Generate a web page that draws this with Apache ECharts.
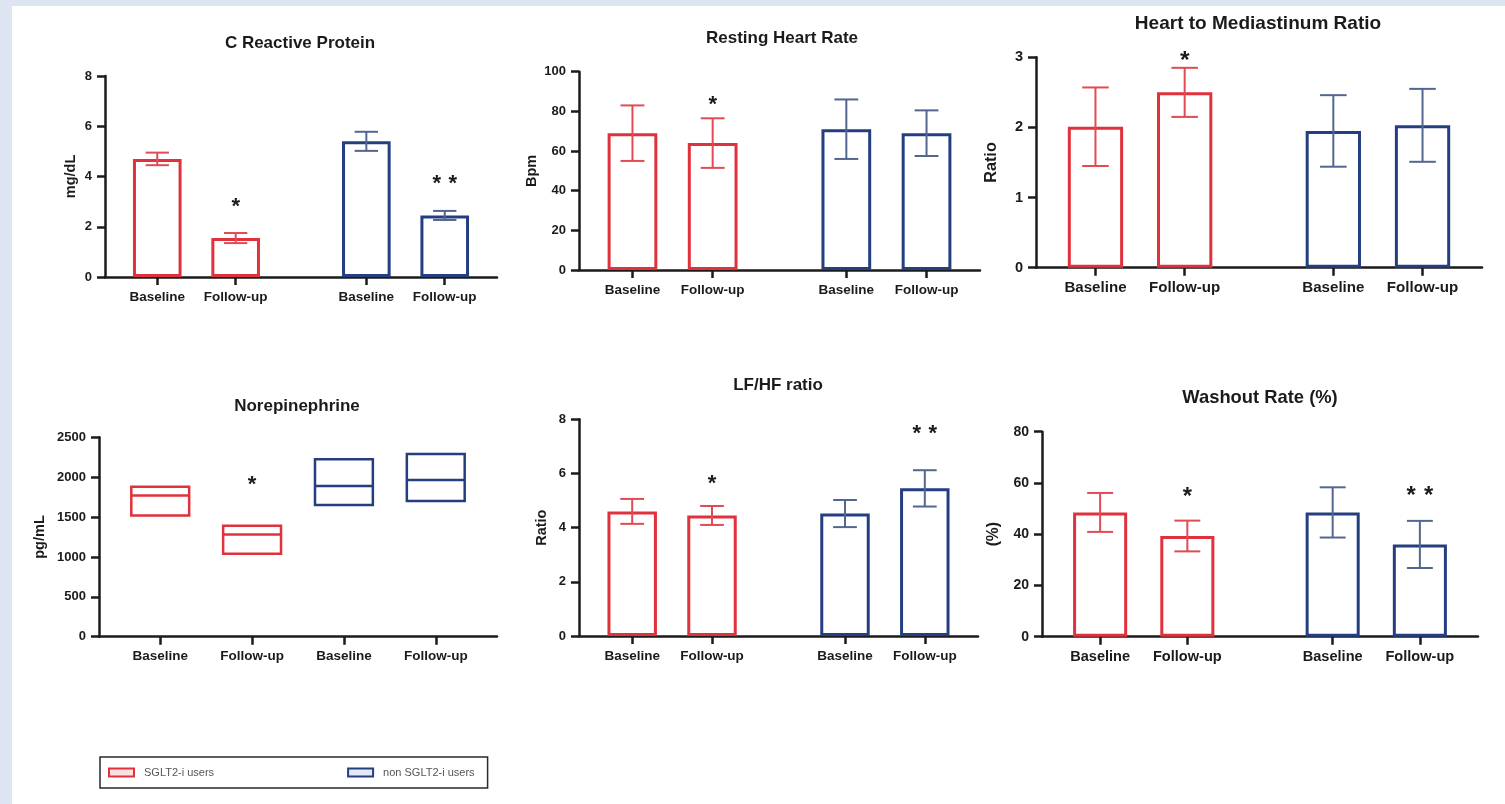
<!DOCTYPE html>
<html>
<head>
<meta charset="utf-8">
<script src="https://cdn.jsdelivr.net/npm/echarts@6/dist/echarts.min.js"></script>
<style>
  html, body { margin: 0; padding: 0; width: 1505px; height: 804px; overflow: hidden; background: #dde5f3; }
  #chart { position: absolute; left: 12px; top: 6px; width: 1493px; height: 798px; background: #ffffff; }
</style>
</head>
<body>
<div id="chart"></div>
<script>
// ---- data ----
const groups = ['SGLT2-i users', 'non SGLT2-i users'];
const timepoints = ['Baseline', 'Follow-up'];

// C Reactive Protein (mg/dL)
const crpSglt2Mean = [4.7, 1.55];
const crpSglt2Err = [0.25, 0.2];
const crpNonMean = [5.4, 2.45];
const crpNonErr = [0.38, 0.18];
const crpSig = ['', '*', '', '**'];
const crpSigLevel = [null, 3.0, null, 3.9];
const crpTicks = [0, 2, 4, 6, 8];

// Resting Heart Rate (Bpm)
const rhrSglt2Mean = [69, 64];
const rhrSglt2Err = [14, 12.5];
const rhrNonMean = [71, 69];
const rhrNonErr = [15, 11.5];
const rhrSig = ['', '*', '', ''];
const rhrSigLevel = [null, 85.7, null, null];
const rhrTicks = [0, 20, 40, 60, 80, 100];

// Heart to Mediastinum Ratio
const hmrSglt2Mean = [2.01, 2.5];
const hmrSglt2Err = [0.56, 0.35];
const hmrNonMean = [1.95, 2.03];
const hmrNonErr = [0.51, 0.52];
const hmrSig = ['', '*', '', ''];
const hmrSigLevel = [null, 3.03, null, null];
const hmrTicks = [0, 1, 2, 3];

// Norepinephrine (pg/mL): low, median, high
const neSglt2Low = [1520, 1040];
const neSglt2Mid = [1770, 1280];
const neSglt2High = [1880, 1390];
const neNonLow = [1650, 1700];
const neNonMid = [1890, 1965];
const neNonHigh = [2225, 2290];
const neSig = ['', '*', '', ''];
const neSigLevel = [null, 1966, null, null];
const neTicks = [0, 500, 1000, 1500, 2000, 2500];

// LF/HF ratio
const lfhfSglt2Mean = [4.6, 4.45];
const lfhfSglt2Err = [0.46, 0.35];
const lfhfNonMean = [4.52, 5.45];
const lfhfNonErr = [0.5, 0.67];
const lfhfSig = ['', '*', '', '**'];
const lfhfSigLevel = [null, 5.8, null, 7.67];
const lfhfTicks = [0, 2, 4, 6, 8];

// Washout Rate (%)
const wrSglt2Mean = [48.5, 39.3];
const wrSglt2Err = [7.6, 6.0];
const wrNonMean = [48.5, 36];
const wrNonErr = [9.8, 9.2];
const wrSig = ['', '*', '', '**'];
const wrSigLevel = [null, 56.6, null, 56.9];
const wrTicks = [0, 20, 40, 60, 80];

// ---- styling / layout ----
const OX = 12, OY = 6;            // chart container offset on the page
const RED = '#e0323c', BLUE = '#243f80';
const RED_ERR = '#e24a55', BLUE_ERR = '#52668f';
const INK = '#1b1b1b';
const FONT = '"Liberation Sans", Arial, sans-serif';
const BAR_FRAC = 0.62;             // bar width as a share of the slot step
const GROUPED_SLOTS = [2, 5, 10, 13];
const EVEN_SLOTS = [2, 5, 8, 11];

const option = {
  animation: false,
  title: [], grid: [], xAxis: [], yAxis: [], series: [],
  legend: {
    left: 100 - OX, top: 757 - OY,
    orient: 'horizontal', selectedMode: false,
    itemWidth: 25, itemHeight: 8, itemGap: 133,
    padding: [10, 13, 10, 8],
    borderColor: '#2a2a2a', borderWidth: 1.5,
    textStyle: { fontFamily: FONT, fontSize: 11, color: '#555', padding: [0, 0, 0, 5] },
    data: [
      { name: groups[0], icon: 'rect', itemStyle: { color: '#f7e1e3', borderColor: RED, borderWidth: 2 } },
      { name: groups[1], icon: 'rect', itemStyle: { color: '#e3eaf5', borderColor: BLUE, borderWidth: 2 } }
    ]
  }
};

function addFrame(i, p) {
  const s = p.scale;
  option.grid.push({ left: p.grid[0] - OX, top: p.grid[1] - OY, width: p.grid[2], height: p.grid[3] });
  option.title.push({
    text: p.title, left: p.titleXY[0] - OX, top: p.titleXY[1] - OY,
    textAlign: 'center', textVerticalAlign: 'middle', padding: 0,
    textStyle: { fontFamily: FONT, fontSize: 17 * s, fontWeight: 'bold', color: INK }
  });
  const labels = timepoints.concat(timepoints);
  option.xAxis.push({
    gridIndex: i, type: 'value', min: 0, max: p.xMax,
    splitLine: { show: false },
    axisLine: { show: true, lineStyle: { color: INK, width: 2.5 } },
    axisTick: { show: true, customValues: p.slots, length: 8, lineStyle: { color: INK, width: 2.5 } },
    axisLabel: {
      customValues: p.slots, margin: 13,
      formatter: v => labels[p.slots.indexOf(v)] || '',
      fontFamily: FONT, fontSize: 13.5 * s, fontWeight: 'bold', color: INK
    }
  });
  const t = p.ticks;
  option.yAxis.push({
    gridIndex: i, type: 'value', min: t[0], max: t[t.length - 1], interval: t[1] - t[0],
    name: p.yName, nameLocation: 'middle', nameGap: p.nameGap,
    nameTextStyle: { fontFamily: FONT, fontSize: 14.5 * s, fontWeight: 'bold', color: INK },
    splitLine: { show: false },
    axisLine: { show: true, lineStyle: { color: INK, width: 2.5 } },
    axisTick: { show: true, length: 8, lineStyle: { color: INK, width: 2.5 } },
    axisLabel: {
      margin: 13, formatter: v => String(v),
      fontFamily: FONT, fontSize: 13 * s, fontWeight: 'bold', color: INK
    }
  });
}

function stepPx(api) { return api.size([3, 0])[0]; }

function addStars(i, p, sig, level) {
  const data = [];
  sig.forEach((m, k) => { if (m) data.push([p.slots[k], level[k], m.length]); });
  option.series.push({
    type: 'custom', xAxisIndex: i, yAxisIndex: i, z: 5, silent: true, clip: false,
    data: data,
    renderItem: (params, api) => {
      const c = api.coord([api.value(0), api.value(1)]);
      const n = api.value(2);
      const fs = 22 * p.scale;
      const children = [];
      for (let k = 0; k < n; k++) {
        children.push({
          type: 'text',
          x: c[0] + (k - (n - 1) / 2) * 16 * p.scale,
          y: c[1] + fs * 0.24,
          style: { text: '*', fill: INK, fontFamily: FONT, fontSize: fs, fontWeight: 'bold', align: 'center', verticalAlign: 'middle' }
        });
      }
      return { type: 'group', children: children };
    }
  });
}

function addBarPanel(i, p, d) {
  addFrame(i, p);
  const sets = [
    { mean: d.m0, err: d.e0, color: RED, ecolor: RED_ERR, slots: p.slots.slice(0, 2) },
    { mean: d.m1, err: d.e1, color: BLUE, ecolor: BLUE_ERR, slots: p.slots.slice(2, 4) }
  ];
  sets.forEach((g, gi) => {
    option.series.push({
      type: 'bar', name: groups[gi], xAxisIndex: i, yAxisIndex: i, silent: true,
      barWidth: (BAR_FRAC * 100) + '%', barGap: '-100%',
      itemStyle: { color: '#ffffff', borderColor: g.color, borderWidth: 3 },
      data: g.mean.map((v, k) => [g.slots[k], v])
    });
    option.series.push({
      type: 'custom', name: groups[gi], xAxisIndex: i, yAxisIndex: i, z: 4, silent: true,
      data: g.mean.map((v, k) => [g.slots[k], v, g.err[k]]),
      renderItem: (params, api) => {
        const x = api.value(0), m = api.value(1), e = api.value(2);
        const top = api.coord([x, m + e]), bot = api.coord([x, m - e]);
        const half = stepPx(api) * BAR_FRAC * 0.24;
        const st = { stroke: g.ecolor, lineWidth: 2 };
        return {
          type: 'group', children: [
            { type: 'line', shape: { x1: top[0], y1: top[1], x2: bot[0], y2: bot[1] }, style: st },
            { type: 'line', shape: { x1: top[0] - half, y1: top[1], x2: top[0] + half, y2: top[1] }, style: st },
            { type: 'line', shape: { x1: bot[0] - half, y1: bot[1], x2: bot[0] + half, y2: bot[1] }, style: st }
          ]
        };
      }
    });
  });
  addStars(i, p, d.sig, d.level);
}

function addRangePanel(i, p, d) {
  addFrame(i, p);
  const sets = [
    { low: d.low0, mid: d.mid0, high: d.high0, color: RED, slots: p.slots.slice(0, 2) },
    { low: d.low1, mid: d.mid1, high: d.high1, color: BLUE, slots: p.slots.slice(2, 4) }
  ];
  sets.forEach((g, gi) => {
    option.series.push({
      type: 'custom', name: groups[gi], xAxisIndex: i, yAxisIndex: i, z: 3, silent: true,
      data: g.low.map((v, k) => [g.slots[k], v, g.mid[k], g.high[k]]),
      renderItem: (params, api) => {
        const x = api.value(0);
        const lo = api.coord([x, api.value(1)]);
        const md = api.coord([x, api.value(2)]);
        const hi = api.coord([x, api.value(3)]);
        const w = stepPx(api) * 0.63;
        const st = { stroke: g.color, fill: 'none', lineWidth: 2.5 };
        return {
          type: 'group', children: [
            { type: 'rect', shape: { x: lo[0] - w / 2, y: hi[1], width: w, height: lo[1] - hi[1] }, style: st },
            { type: 'line', shape: { x1: md[0] - w / 2, y1: md[1], x2: md[0] + w / 2, y2: md[1] }, style: { stroke: g.color, lineWidth: 2.5 } }
          ]
        };
      }
    });
  });
  addStars(i, p, d.sig, d.level);
}

addBarPanel(0,
  { title: 'C Reactive Protein', titleXY: [300, 43], scale: 1, grid: [105, 76, 392, 201], xMax: 15, slots: GROUPED_SLOTS, ticks: crpTicks, yName: 'mg/dL', nameGap: 27 },
  { m0: crpSglt2Mean, e0: crpSglt2Err, m1: crpNonMean, e1: crpNonErr, sig: crpSig, level: crpSigLevel });

addBarPanel(1,
  { title: 'Resting Heart Rate', titleXY: [782, 38], scale: 1, grid: [579, 71.7, 401, 198.3], xMax: 15, slots: GROUPED_SLOTS, ticks: rhrTicks, yName: 'Bpm', nameGap: 40 },
  { m0: rhrSglt2Mean, e0: rhrSglt2Err, m1: rhrNonMean, e1: rhrNonErr, sig: rhrSig, level: rhrSigLevel });

addBarPanel(2,
  { title: 'Heart to Mediastinum Ratio', titleXY: [1258, 24], scale: 1.12, grid: [1036, 57.3, 446, 210.4], xMax: 15, slots: GROUPED_SLOTS, ticks: hmrTicks, yName: 'Ratio', nameGap: 36 },
  { m0: hmrSglt2Mean, e0: hmrSglt2Err, m1: hmrNonMean, e1: hmrNonErr, sig: hmrSig, level: hmrSigLevel });

addRangePanel(3,
  { title: 'Norepinephrine', titleXY: [297, 406], scale: 1, grid: [99, 437.3, 398, 199.4], xMax: 13, slots: EVEN_SLOTS, ticks: neTicks, yName: 'pg/mL', nameGap: 52 },
  { low0: neSglt2Low, mid0: neSglt2Mid, high0: neSglt2High, low1: neNonLow, mid1: neNonMid, high1: neNonHigh, sig: neSig, level: neSigLevel });

addBarPanel(4,
  { title: 'LF/HF ratio', titleXY: [778, 385], scale: 1, grid: [579, 419.3, 399, 216.7], xMax: 15, slots: GROUPED_SLOTS, ticks: lfhfTicks, yName: 'Ratio', nameGap: 30 },
  { m0: lfhfSglt2Mean, e0: lfhfSglt2Err, m1: lfhfNonMean, e1: lfhfNonErr, sig: lfhfSig, level: lfhfSigLevel });

addBarPanel(5,
  { title: 'Washout Rate (%)', titleXY: [1260, 398], scale: 1.08, grid: [1042, 431.7, 436, 205], xMax: 15, slots: GROUPED_SLOTS, ticks: wrTicks, yName: '(%)', nameGap: 40 },
  { m0: wrSglt2Mean, e0: wrSglt2Err, m1: wrNonMean, e1: wrNonErr, sig: wrSig, level: wrSigLevel });

const chart = echarts.init(document.getElementById('chart'), null, { renderer: 'canvas' });
chart.setOption(option);
</script>
</body>
</html>
